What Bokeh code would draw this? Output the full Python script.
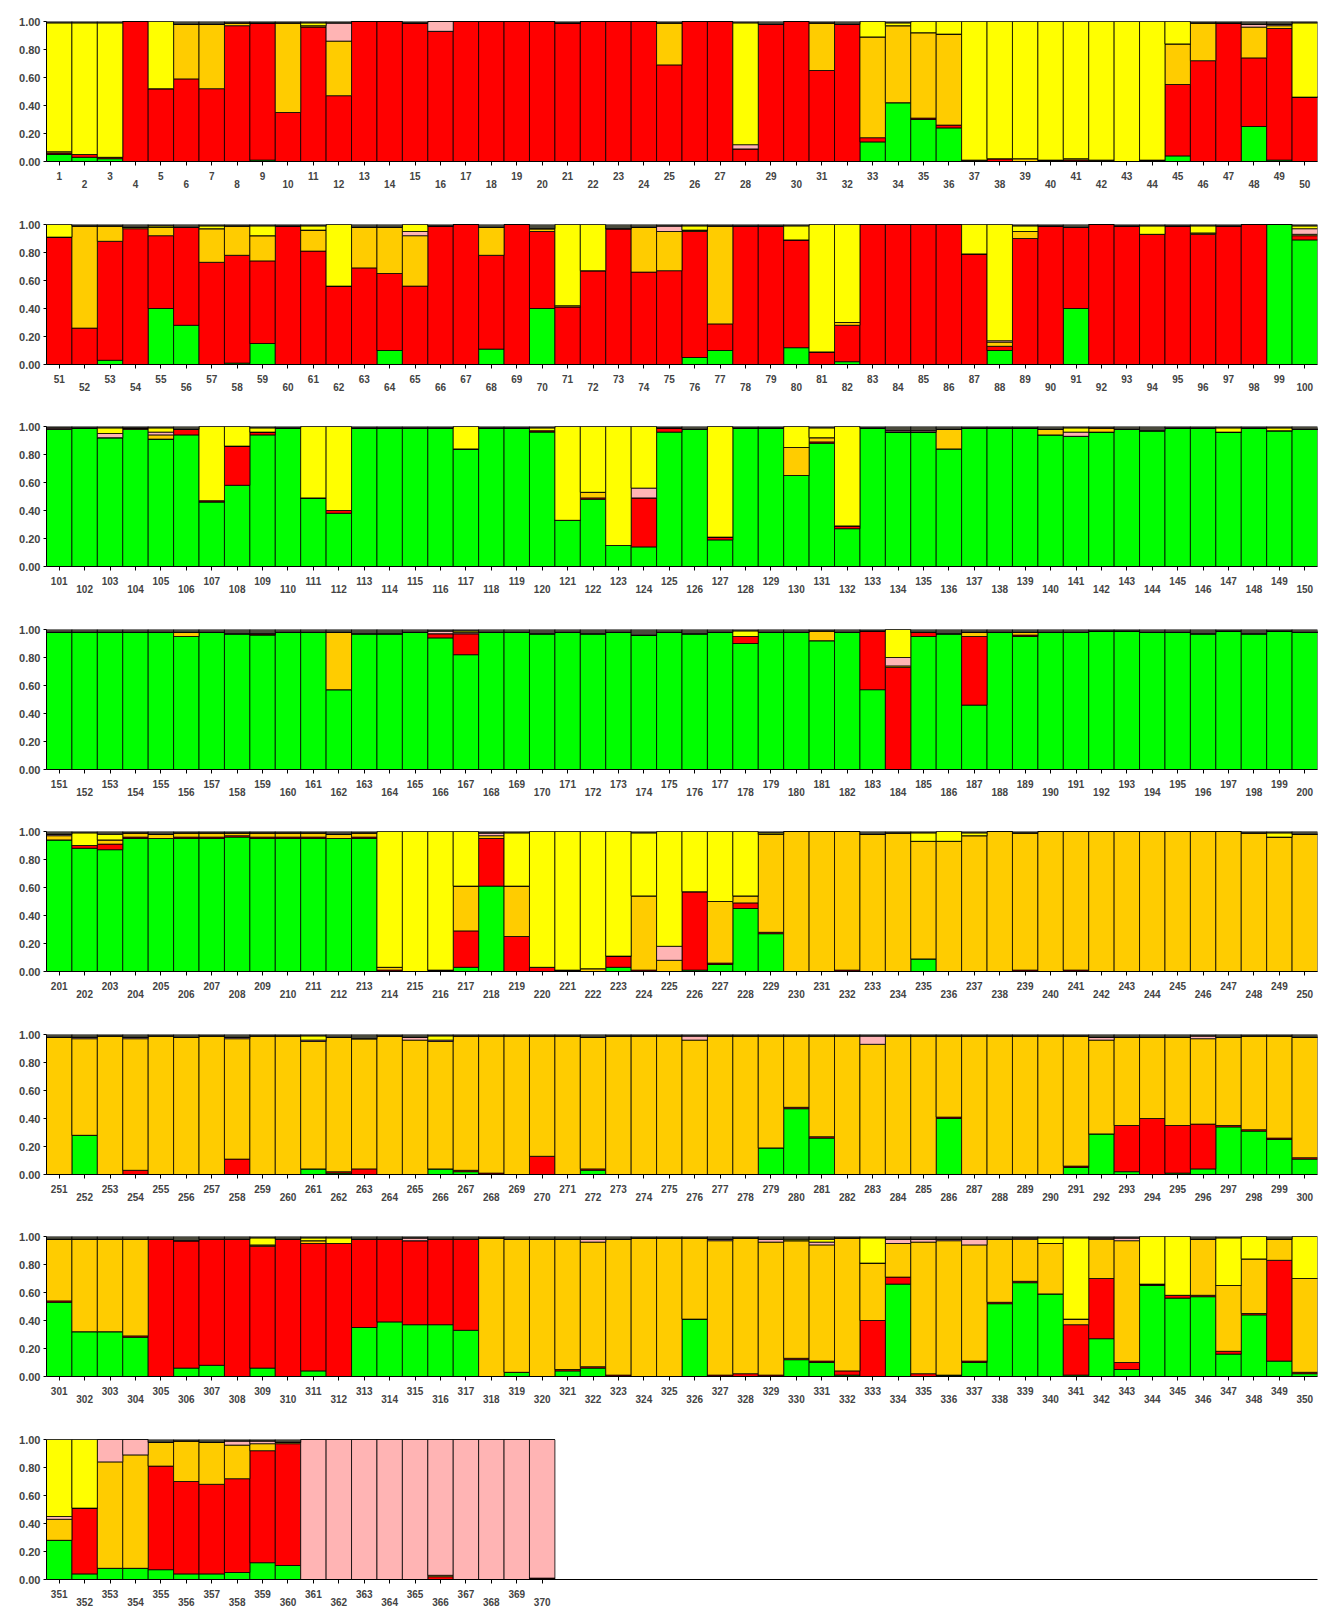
from bokeh.plotting import figure
from bokeh.models import ColumnDataSource, Range1d, FixedTicker, LinearAxis, PrintfTickFormatter
from bokeh.layouts import column
from bokeh.embed import file_html
from bokeh.resources import INLINE

# Membership proportions of 370 individuals in five clusters
green = [
    .05,.03,.02,0,0,0,0,0,.01,0,   0,0,0,0,0,0,0,0,0,0,   0,0,0,0,0,0,0,0,0,0,
    0,0,.14,.42,.30,.24,0,0,0,0,   0,0,0,0,.04,0,0,.25,.01,0,
    0,0,.03,0,.40,.28,0,.01,.15,0,   0,0,0,.10,0,0,0,.11,0,.40,   0,0,0,0,0,.05,.10,0,0,.12,
    0,.02,0,0,0,0,0,.10,0,0,   .40,0,0,0,0,0,0,0,1.0,.89,
    .98,.99,.92,.98,.91,.94,.46,.58,.94,.99,   .49,.38,.99,.99,.99,.99,.84,.99,.99,.96,
    .33,.48,.15,.14,.96,.98,.19,.99,.99,.65,   .88,.27,.99,.96,.96,.84,.99,.99,.99,.94,
    .93,.96,.98,.97,.99,.99,.96,.99,.97,.98,
    .98,.98,.98,.98,.98,.95,.98,.97,.96,.98,   .98,.57,.97,.97,.98,.94,.82,.98,.98,.97,
    .98,.97,.98,.96,.98,.97,.98,.90,.98,.98,   .92,.98,.57,0,.95,.97,.46,.98,.95,.98,
    .98,.99,.99,.98,.98,.97,.99,.97,.99,.98,
    .94,.88,.87,.95,.95,.95,.95,.96,.95,.95,   .95,.95,.95,0,0,0,.03,.61,0,0,
    0,0,.03,0,0,.01,.05,.45,.27,0,   0,0,0,0,.09,0,0,0,0,0,   0,0,0,0,0,0,0,0,0,0,
    0,.28,0,0,0,0,0,0,0,0,   .04,.01,0,0,0,.04,.02,0,0,0,   0,.03,0,0,0,0,0,0,.19,.47,
    .26,0,0,0,0,.40,0,0,0,0,   .05,.29,.02,0,.01,.04,.34,.31,.25,.11,
    .53,.32,.32,.28,0,.06,.08,0,.06,0,   .04,0,.35,.39,.37,.37,.33,0,.03,0,
    .04,.06,0,0,0,.41,0,0,0,.12,   .10,.01,0,.66,0,.01,.10,.52,.67,.59,
    .01,.27,.05,.65,.56,.57,.16,.44,.11,.02,
    .28,.04,.08,.08,.07,.04,.04,.05,.12,.10,   0,0,0,0,0,0,0,0,0,0,
]
red = [
    .01,.02,.01,1,.52,.59,.52,.97,.98,.35,   .96,.47,1,1,.99,.93,1,1,1,1,   .99,1,1,1,.69,1,1,.09,.98,1,
    .65,.98,.03,0,.01,.02,0,.02,0,.01,   .01,0,0,.01,.51,.72,.99,.49,.94,.46,
    .91,.26,.85,.97,.52,.70,.73,.77,.59,.99,   .81,.56,.69,.55,.56,.99,1,.67,1,.55,
    .41,.67,.97,.66,.67,.90,.19,.99,.99,.77,   .09,.26,1,1,1,1,.79,.03,.90,.99,
    .58,1,.99,.93,.99,.93,.99,1,0,.03,
    0,0,0,.01,0,.04,.01,.28,.02,0,   0,.02,0,0,0,0,0,0,0,.01,   0,.01,0,.35,.03,0,.02,0,0,0,
    .01,.02,0,0,0,0,0,0,0,0,   0,0,0,0,0,0,0,0,0,0,
    0,0,0,0,0,0,0,0,.01,0,   0,0,0,0,0,.03,.15,0,0,0,   0,0,0,0,0,0,0,.05,0,0,
    0,0,.42,.73,.03,0,.49,0,.01,0,   0,0,0,0,0,0,0,0,0,0,
    0,.02,.04,.01,0,.01,.01,.01,.01,.01,   .01,0,.01,.01,0,.01,.26,.34,.25,.03,
    .01,0,.08,.01,0,.56,.01,.04,.01,0,   0,.01,0,0,0,0,0,0,.01,0,   .01,0,0,0,0,0,0,0,0,0,
    0,0,0,.03,0,0,0,.11,0,0,   0,.01,.04,0,0,0,.01,.01,0,.13,   0,.01,0,0,0,0,0,0,0,.01,
    .01,0,0,0,0,.01,0,0,0,0,   .01,0,.33,.40,.34,.32,.01,.01,.01,.01,
    .01,0,0,.01,.98,.91,.90,.98,.87,.98,   .91,.95,.63,.59,.60,.61,.65,0,0,0,
    .01,.01,.01,0,0,0,.01,.02,.01,.01,   .01,.03,.40,.05,.02,0,.01,.01,.01,0,
    .36,.43,.05,.01,.02,.01,.02,.01,.72,.01,
    0,.47,0,0,.74,.66,.64,.67,.80,.87,   0,0,0,0,0,.02,0,0,0,.01,
]
orange = [
    .01,0,0,0,0,.39,.46,.02,0,.64,   .01,.39,0,0,0,0,0,0,0,0,   0,0,0,0,.30,0,0,0,0,0,
    .34,0,.72,.55,.61,.65,.01,0,.02,0,   .01,.01,0,0,.29,.27,0,.22,.02,0,
    0,.73,.11,.01,.06,0,.24,.21,.18,0,   .15,0,.29,.33,.36,0,0,.20,0,.02,
    .01,0,0,.32,.28,.01,.70,0,0,0,   0,.02,0,0,0,0,0,.03,.05,0,   0,0,0,0,0,.01,0,0,0,.01,
    0,0,0,0,.03,0,0,0,0,0,   0,0,0,0,0,0,0,0,0,0,   0,.04,0,0,0,0,0,0,0,.20,
    .03,0,0,0,0,.14,0,0,0,.04,   0,.03,0,0,0,0,0,0,0,0,
    0,0,0,0,0,.03,0,0,0,0,   0,.41,0,0,0,0,0,0,0,0,   0,0,0,0,0,0,0,0,0,0,
    .07,0,0,.01,0,0,.03,0,.02,0,   0,0,0,0,0,0,0,0,0,0,
    .03,0,.03,.03,.03,.03,.03,.02,.03,.03,   .03,.03,.03,.02,0,0,.32,.02,.36,0,
    0,.02,0,.53,.08,0,.44,.05,.70,1,   1,.99,.98,.99,.84,.93,.97,1,.98,1,
    .99,1,1,1,1,1,1,.99,.96,.98,
    .98,.69,.99,.94,.99,.98,.99,.86,.99,.99,   .91,.96,.93,.99,.96,.91,.96,.98,.99,.86,
    .99,.94,.99,.99,.99,.96,.99,.99,.80,.51,   .72,.99,.93,.99,.99,.58,.99,.99,.99,.99,
    .93,.67,.63,.58,.63,.61,.63,.67,.73,.86,
    .44,.66,.66,.69,0,0,0,0,.01,0,   .02,0,0,0,0,0,0,.99,.95,.98,
    .93,.89,.97,.99,.99,.58,.96,.97,.95,.84,   .83,.95,.41,.24,.94,.96,.83,.45,.30,.36,
    .04,.28,.87,0,0,.40,.47,.39,.15,.67,
    .15,0,.76,.81,.17,.29,.30,.24,.05,.01,   0,0,0,0,0,.01,0,0,0,0,
]
pink = [
    0,0,0,0,0,0,0,0,0,0,   0,.13,0,0,0,.07,0,0,0,0,   0,0,0,0,0,0,0,.03,0,0,
    0,0,0,0,0,0,0,0,0,0,   0,0,0,0,0,0,0,.02,.01,0,
    0,0,0,0,0,0,0,0,0,0,   0,0,0,0,.03,0,0,0,0,0,   0,0,0,0,.04,0,0,0,0,0,
    0,0,0,0,0,0,0,.01,0,0,   0,0,0,0,0,0,0,0,0,.04,
    .01,0,.03,0,.02,0,0,0,0,0,   0,0,0,0,0,0,0,0,0,0,   0,0,0,.07,0,0,0,0,0,0,
    0,0,0,.01,.01,0,0,0,0,0,   .03,0,0,0,0,0,0,0,0,0,
    0,0,0,0,0,0,0,0,0,0,   0,0,0,0,0,.02,.01,0,0,0,   0,0,0,0,0,0,0,0,0,0,
    0,0,0,.06,0,0,0,0,0,0,   0,0,0,0,0,0,0,0,0,0,
    .01,0,0,0,0,0,0,0,0,0,   0,0,0,0,0,0,0,.02,0,0,   0,0,0,0,.10,0,0,0,0,0,
    0,0,0,0,0,0,0,0,0,0,   0,0,0,0,0,0,0,0,0,0,
    0,.01,0,.01,0,0,0,.01,0,0,   .01,0,0,0,.02,.01,0,0,0,0,   0,0,0,0,0,.03,0,0,0,0,
    0,0,.06,0,0,0,0,0,0,0,   0,.02,0,0,0,.02,0,0,0,0,
    0,0,0,0,0,0,0,0,0,0,   0,0,0,0,.02,0,0,0,0,0,   0,.02,0,0,0,0,.01,0,.02,0,
    .02,0,0,.03,.02,.01,.04,0,.01,0,   0,.01,.02,0,0,0,0,0,0,0,
    .02,0,.16,.11,0,0,0,.03,.02,0,   1,1,1,1,1,.97,1,1,1,.99,
]
yellow = [
    .92,.94,.96,0,.48,0,0,0,0,0,   .02,0,0,0,0,0,0,0,0,0,   0,0,0,0,0,0,0,.87,0,0,
    0,0,.11,.02,.08,.09,.99,.98,.98,.99,   .98,.99,1,.99,.16,0,0,0,0,.53,
    .09,0,0,0,.01,0,.02,0,.07,0,   .03,.44,0,0,.05,0,0,0,0,0,   .58,.33,0,0,0,.03,0,0,0,.10,
    .91,.70,0,0,0,0,.21,.83,.04,0,   0,0,0,.06,0,.05,0,0,0,.02,
    0,0,.04,0,.03,0,.53,.14,.03,0,   .51,.60,0,0,0,0,.16,0,0,.02,   .67,.47,.85,.44,0,0,.79,0,0,.15,
    .07,.71,0,0,0,0,0,0,0,0,   .03,0,0,0,0,0,.03,0,.02,0,
    0,0,0,0,0,0,0,0,0,0,   0,0,0,0,0,0,.01,0,0,0,   0,0,0,0,0,0,0,.04,0,0,
    0,0,0,.20,0,0,0,0,0,0,   0,0,0,0,0,0,0,0,0,0,
    0,.09,.04,0,0,0,0,0,0,0,   0,0,0,.97,1,.99,.39,0,.38,.97,
    .99,.98,.89,.45,.82,.43,.50,.46,.01,0,   0,0,0,0,.06,.07,.02,0,0,0,   0,0,0,0,0,0,0,0,.03,0,
    0,0,0,0,0,0,0,0,0,0,   .03,0,0,0,0,.03,0,0,0,0,   0,0,0,0,0,0,0,0,0,0,
    0,0,0,0,0,0,0,0,0,0,   0,0,0,0,0,0,0,0,0,0,
    0,0,0,0,0,0,0,0,.05,0,   .02,.04,0,0,0,0,0,0,0,0,   0,0,0,0,0,0,0,0,0,.01,
    .02,0,.18,0,0,0,0,0,0,.04,   .58,0,0,.34,.42,0,.34,.16,0,.30,
    .55,.49,0,0,0,0,0,0,0,0,   0,0,0,0,0,0,0,0,0,0,
]
labels = [str(i) for i in range(1, 371)]
y_ticks = [0.0, 0.2, 0.4, 0.6, 0.8, 1.0]

colors = ["#00ff00", "#ff0000", "#ffcc00", "#ffb4b4", "#ffff00", "#4a4a3c"]
stack = ["green", "red", "orange", "pink", "yellow", "other"]
FONT = "Liberation Sans"
PER_ROW = 50
TOP = 21
FRAME_H = 140
heights = [203, 202, 203, 202, 203, 202, 203, 192]

figs = []
for k in range(8):
    s = k * PER_ROW
    e = min(s + PER_ROW, len(labels))
    n = e - s
    xs = list(range(1, n + 1))
    other = [max(0.0, round(1 - (green[i] + red[i] + orange[i] + pink[i] + yellow[i]), 3)) for i in range(s, e)]
    src = ColumnDataSource(dict(x=xs, green=green[s:e], red=red[s:e], orange=orange[s:e],
                                pink=pink[s:e], yellow=yellow[s:e], other=other))
    p = figure(frame_width=1271, frame_height=FRAME_H, x_range=Range1d(0.5, 50.5), y_range=Range1d(0, 1.0),
               output_backend="svg", toolbar_location=None,
               min_border_left=46, min_border_right=3, min_border_top=TOP,
               min_border_bottom=heights[k] - TOP - FRAME_H)
    p.vbar_stack(stack, x="x", width=1.0, color=colors, line_color="black", line_width=0.8, source=src)
    p.xgrid.visible = False
    p.ygrid.visible = False
    p.outline_line_color = None

    yax = p.yaxis[0]
    yax.ticker = FixedTicker(ticks=y_ticks)
    yax.formatter = PrintfTickFormatter(format="%.2f")
    yax.major_tick_out = 3
    yax.major_tick_in = 0
    yax.minor_tick_out = 0
    yax.minor_tick_in = 0
    yax.major_label_standoff = 3
    yax.axis_line_color = "black"
    yax.major_label_text_font = FONT
    yax.major_label_text_font_style = "bold"
    yax.major_label_text_font_size = "11px"

    xax = p.xaxis[0]
    xax.ticker = FixedTicker(ticks=xs)
    xax.major_label_overrides = {x: (labels[s + x - 1] if x % 2 == 1 else "") for x in xs}
    xax.major_tick_out = 4
    xax.major_tick_in = 0
    xax.minor_tick_out = 0
    xax.minor_tick_in = 0
    xax.major_label_standoff = 6
    xax.major_label_text_font = FONT
    xax.major_label_text_font_style = "bold"
    xax.major_label_text_font_size = "10px"

    evens = [x for x in xs if x % 2 == 0]
    ax2 = LinearAxis(ticker=FixedTicker(ticks=evens),
                     major_label_overrides={x: labels[s + x - 1] for x in evens},
                     major_tick_out=0, major_tick_in=0, minor_tick_out=0, minor_tick_in=0,
                     axis_line_color=None, major_label_standoff=-3,
                     major_label_text_font=FONT, major_label_text_font_style="bold",
                     major_label_text_font_size="10px")
    p.add_layout(ax2, "below")
    figs.append(p)

layout = column(*figs, spacing=0)
open("out.html", "w").write(file_html(layout, INLINE))
